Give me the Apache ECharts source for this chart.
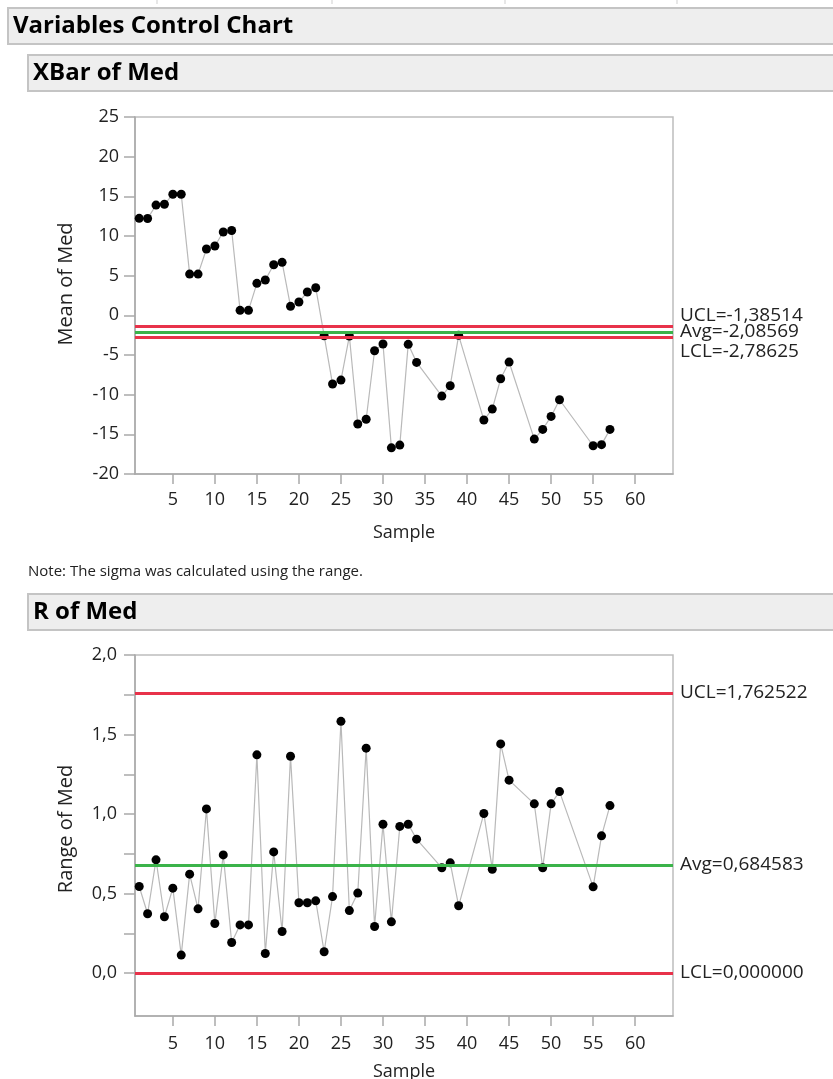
<!DOCTYPE html>
<html>
<head>
<meta charset="utf-8">
<title>Variables Control Chart</title>
<script src="https://cdn.jsdelivr.net/npm/echarts@6/dist/echarts.min.js"></script>
<style>
  html, body { margin: 0; padding: 0; background: #ffffff; }
  #chart { width: 833px; height: 1079px; }
</style>
</head>
<body>
<div id="chart"></div>
<script>
// Subgroup numbers that have data (35-36, 40-41, 46-47, 52-54 are missing)
const samples = [1, 2, 3, 4, 5, 6, 7, 8, 9, 10, 11, 12, 13, 14, 15, 16, 17, 18, 19, 20,
  21, 22, 23, 24, 25, 26, 27, 28, 29, 30, 31, 32, 33, 34, 37, 38, 39, 42, 43, 44, 45,
  48, 49, 50, 51, 55, 56, 57];

// Subgroup means of Med
const xbarValues = [12.23, 12.2, 13.9, 14.0, 15.26, 15.26, 5.2, 5.2, 8.36, 8.74, 10.5, 10.7,
  0.63, 0.63, 4.03, 4.45, 6.38, 6.68, 1.13, 1.68, 2.94, 3.48, -2.57, -8.66, -8.16, -2.61,
  -13.7, -13.1, -4.46, -3.62, -16.7, -16.36, -3.66, -5.93, -10.18, -8.87, -2.52, -13.2,
  -11.82, -7.99, -5.89, -15.6, -14.38, -12.74, -10.64, -16.44, -16.3, -14.38];

// Subgroup ranges of Med
const rangeValues = [0.544, 0.373, 0.712, 0.354, 0.534, 0.113, 0.622, 0.404, 1.032, 0.312,
  0.743, 0.192, 0.303, 0.303, 1.372, 0.123, 0.762, 0.261, 1.363, 0.442, 0.442, 0.454, 0.134,
  0.481, 1.583, 0.393, 0.503, 1.414, 0.293, 0.936, 0.322, 0.922, 0.936, 0.842, 0.662, 0.693,
  0.423, 1.003, 0.653, 1.441, 1.213, 1.064, 0.662, 1.064, 1.141, 0.542, 0.863, 1.053];

// Control limits
const xbarLimits = { ucl: -1.38514, avg: -2.08569, lcl: -2.78625 };
const rangeLimits = { ucl: 1.762522, avg: 0.684583, lcl: 0.0 };
const xbarLimitText = ['UCL=-1,38514', 'Avg=-2,08569', 'LCL=-2,78625'];
const rangeLimitText = ['UCL=1,762522', 'Avg=0,684583', 'LCL=0,000000'];

// Axis ticks
const sampleTicks = [5, 10, 15, 20, 25, 30, 35, 40, 45, 50, 55, 60];
const rangeTicks = [0, 0.25, 0.5, 0.75, 1.0, 1.25, 1.5, 1.75, 2.0];
const rangeTickLabels = [0, 0.5, 1.0, 1.5, 2.0];

const FONT = '"Open Sans", "Noto Sans", sans-serif';
const RED = '#e8324a';
const GREEN = '#3bb34a';
const AXIS = '#a9a9a9';
const TEXT = '#222222';

const chart = echarts.init(document.getElementById('chart'), null, { renderer: 'canvas' });

function xAxisFor(gridIndex, labelMargin, nameGap) {
  return {
    gridIndex: gridIndex,
    type: 'value',
    min: 0.5,
    max: 64.5,
    axisLine: { show: true, onZero: false, lineStyle: { color: AXIS, width: 1.5 } },
    axisTick: { show: true, length: 10, customValues: sampleTicks, lineStyle: { color: AXIS, width: 1.5 } },
    axisLabel: { customValues: sampleTicks, margin: labelMargin, fontSize: 18, color: TEXT, fontFamily: FONT },
    splitLine: { show: false },
    name: 'Sample',
    nameLocation: 'middle',
    nameGap: nameGap,
    nameTextStyle: { fontSize: 18, color: TEXT, fontFamily: FONT }
  };
}

function pairs(values) {
  return samples.map((s, i) => [s, values[i]]);
}

function limitSeries(xi, yi, lim) {
  return {
    type: 'line',
    xAxisIndex: xi,
    yAxisIndex: yi,
    data: [],
    z: 1,
    silent: true,
    markLine: {
      silent: true,
      symbol: 'none',
      animation: false,
      label: { show: false },
      data: [
        { yAxis: lim.ucl, lineStyle: { color: RED, width: 3, type: 'solid' } },
        { yAxis: lim.avg, lineStyle: { color: GREEN, width: 3, type: 'solid' } },
        { yAxis: lim.lcl, lineStyle: { color: RED, width: 3, type: 'solid' } }
      ]
    }
  };
}

function dataSeries(xi, yi, values) {
  return {
    type: 'line',
    xAxisIndex: xi,
    yAxisIndex: yi,
    data: pairs(values),
    z: 3,
    symbol: 'circle',
    symbolSize: 9,
    showAllSymbol: true,
    lineStyle: { color: '#b9b9b9', width: 1.2 },
    itemStyle: { color: '#000000' },
    emphasis: { disabled: true }
  };
}

const gridBase = { left: 135, width: 538, show: true, borderColor: '#bdbdbd', borderWidth: 1.5,
  backgroundColor: '#ffffff', containLabel: false, outerBoundsMode: 'none' };

const option = {
  animation: false,
  backgroundColor: '#ffffff',
  grid: [
    Object.assign({ top: 117, height: 357 }, gridBase),
    Object.assign({ top: 655, height: 361 }, gridBase)
  ],
  xAxis: [xAxisFor(0, 17, 50), xAxisFor(1, 19, 47)],
  yAxis: [
    {
      gridIndex: 0,
      type: 'value',
      min: -20,
      max: 25,
      interval: 5,
      axisLine: { show: true, onZero: false, lineStyle: { color: AXIS, width: 1.5 } },
      axisTick: { show: true, length: 11, lineStyle: { color: AXIS, width: 1.5 } },
      axisLabel: { margin: 16, fontSize: 18, color: TEXT, fontFamily: FONT },
      splitLine: { show: false }
    },
    {
      gridIndex: 1,
      type: 'value',
      min: -0.27,
      max: 2.0,
      axisLine: { show: true, onZero: false, lineStyle: { color: AXIS, width: 1.5 } },
      axisTick: { show: true, length: 11, customValues: rangeTicks, lineStyle: { color: AXIS, width: 1.5 } },
      axisLabel: {
        customValues: rangeTickLabels,
        margin: 18,
        fontSize: 18,
        color: TEXT,
        fontFamily: FONT,
        formatter: v => Number(v).toFixed(1).replace('.', ',')
      },
      splitLine: { show: false }
    }
  ],
  series: [
    limitSeries(0, 0, xbarLimits),
    dataSeries(0, 0, xbarValues),
    limitSeries(1, 1, rangeLimits),
    dataSeries(1, 1, rangeValues)
  ]
};

chart.setOption(option);

// Section headers, note, axis titles and limit labels
function header(x, y, label, size) {
  return [
    { type: 'rect', shape: { x: x, y: y, width: 833 - x + 10, height: 36 },
      style: { fill: '#eeeeee', stroke: '#c4c4c4', lineWidth: 2 }, silent: true },
    { type: 'text', x: x + 5, y: y + 18,
      style: { text: label, fill: '#000000', font: 'bold ' + size + 'px ' + FONT, verticalAlign: 'middle' }, silent: true }
  ];
}

function limitLabels(gridIndex, lim, texts, dy) {
  const keys = ['ucl', 'avg', 'lcl'];
  return keys.map((k, i) => {
    const p = chart.convertToPixel({ xAxisIndex: gridIndex, yAxisIndex: gridIndex }, [64.5, lim[k]]);
    return {
      type: 'text', x: p[0] + 7, y: p[1] + dy[i],
      style: { text: texts[i], fill: TEXT, font: '19px ' + FONT, verticalAlign: 'middle' },
      silent: true
    };
  });
}

const graphics = [];
[157, 332, 505, 677].forEach(x => {
  graphics.push({ type: 'line', shape: { x1: x, y1: 0, x2: x, y2: 4 }, style: { stroke: '#cfcfcf', lineWidth: 1 }, silent: true });
});
graphics.push(...header(8, 8, 'Variables Control Chart', 24));
graphics.push(...header(28, 55, 'XBar of Med', 24));
graphics.push(...header(28, 594, 'R of Med', 24));
graphics.push({ type: 'text', x: 28, y: 572,
  style: { text: 'Note: The sigma was calculated using the range.', fill: TEXT, font: '15px ' + FONT, verticalAlign: 'middle' }, silent: true });
graphics.push({ type: 'text', x: 66, y: 284, rotation: Math.PI / 2,
  style: { text: 'Mean of Med', fill: TEXT, font: '20px ' + FONT, align: 'center', verticalAlign: 'middle' }, silent: true });
graphics.push({ type: 'text', x: 66, y: 829, rotation: Math.PI / 2,
  style: { text: 'Range of Med', fill: TEXT, font: '20px ' + FONT, align: 'center', verticalAlign: 'middle' }, silent: true });
graphics.push(...limitLabels(0, xbarLimits, xbarLimitText, [-11, 0, 14]));
graphics.push(...limitLabels(1, rangeLimits, rangeLimitText, [0, 0, 0]));

chart.setOption({ graphic: graphics });
</script>
</body>
</html>
